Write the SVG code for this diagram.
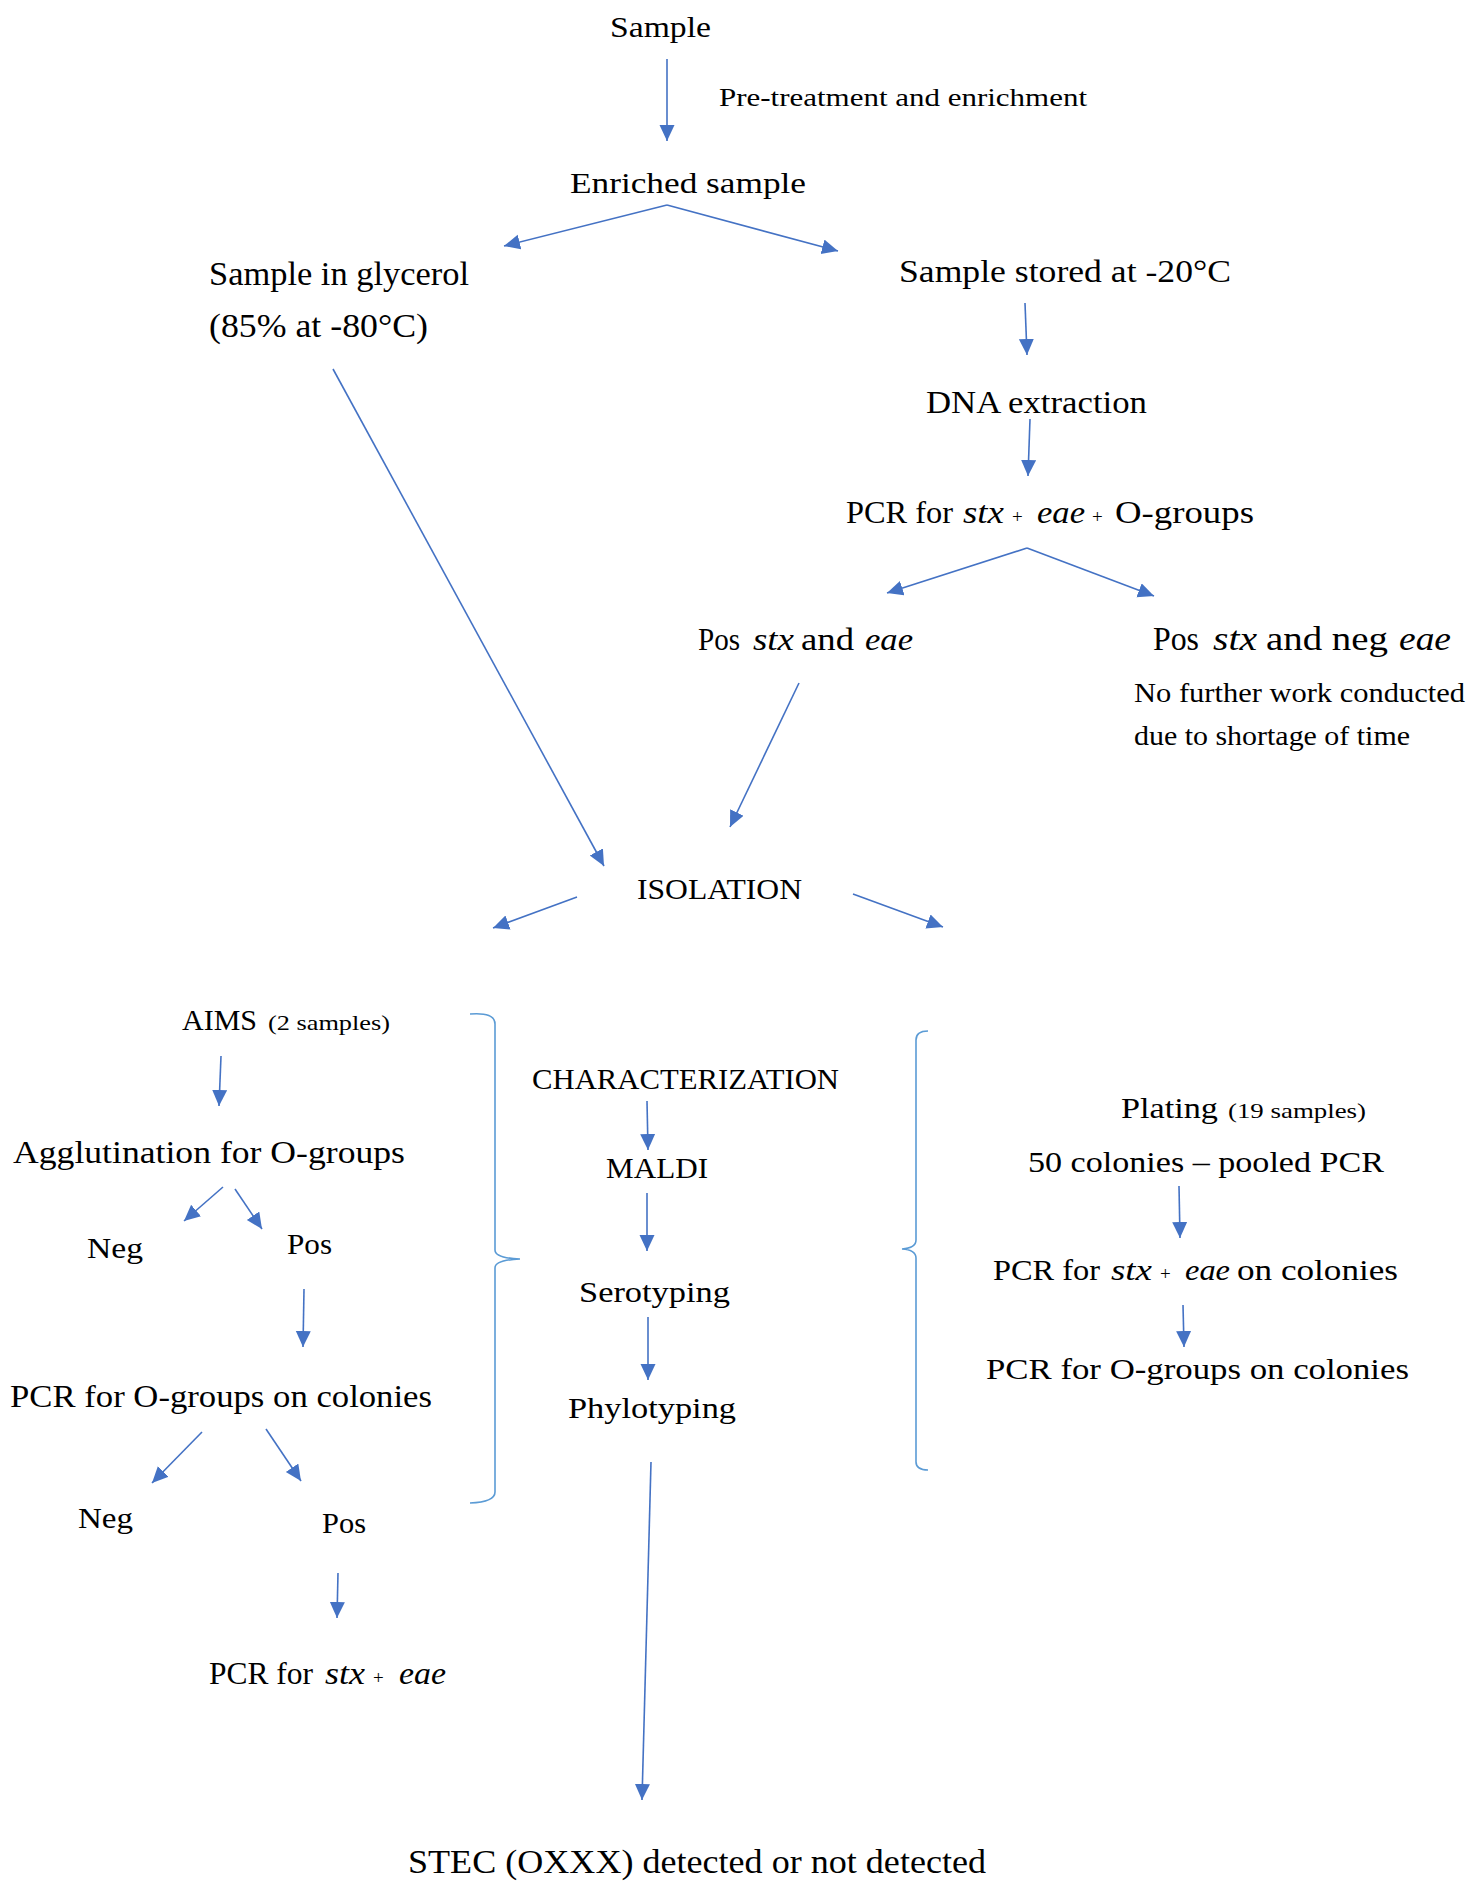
<svg xmlns="http://www.w3.org/2000/svg" width="1478" height="1883" viewBox="0 0 1478 1883">
<style>
text{font-family:"Liberation Serif","Times New Roman",serif;fill:#000;}
.i{font-style:italic;}
.pl{font-size:19px;}
.c{stroke:#4472C4;stroke-width:1.6;fill:none;}
.b{stroke:#5B9BD5;stroke-width:1.6;fill:none;}
</style>
<defs>
<marker id="ah" markerUnits="userSpaceOnUse" markerWidth="18" markerHeight="16" refX="16" refY="7.5" orient="auto">
<path d="M0,0 L16,7.5 L0,15 z" fill="#4472C4"/>
</marker>
</defs>
<rect width="1478" height="1883" fill="#fff"/>
<g id="connectors">
<line class="c" x1="667" y1="59" x2="667" y2="141" marker-end="url(#ah)"/>
<line class="c" x1="667" y1="205" x2="504" y2="246" marker-end="url(#ah)"/>
<line class="c" x1="667" y1="205" x2="838" y2="251" marker-end="url(#ah)"/>
<line class="c" x1="1025" y1="303" x2="1027" y2="355" marker-end="url(#ah)"/>
<line class="c" x1="1030" y1="419" x2="1028" y2="476" marker-end="url(#ah)"/>
<line class="c" x1="1027" y1="548" x2="887" y2="593" marker-end="url(#ah)"/>
<line class="c" x1="1027" y1="548" x2="1154" y2="596" marker-end="url(#ah)"/>
<line class="c" x1="799" y1="683" x2="730" y2="827" marker-end="url(#ah)"/>
<line class="c" x1="333" y1="369" x2="604" y2="866" marker-end="url(#ah)"/>
<line class="c" x1="577" y1="897" x2="493" y2="928" marker-end="url(#ah)"/>
<line class="c" x1="853" y1="894" x2="943" y2="927" marker-end="url(#ah)"/>
<line class="c" x1="221" y1="1056" x2="219" y2="1106" marker-end="url(#ah)"/>
<line class="c" x1="223" y1="1187" x2="184" y2="1221" marker-end="url(#ah)"/>
<line class="c" x1="235" y1="1189" x2="262" y2="1229" marker-end="url(#ah)"/>
<line class="c" x1="304" y1="1289" x2="303" y2="1347" marker-end="url(#ah)"/>
<line class="c" x1="202" y1="1432" x2="152" y2="1483" marker-end="url(#ah)"/>
<line class="c" x1="266" y1="1429" x2="301" y2="1481" marker-end="url(#ah)"/>
<line class="c" x1="338" y1="1573" x2="337" y2="1618" marker-end="url(#ah)"/>
<line class="c" x1="647" y1="1101" x2="648" y2="1150" marker-end="url(#ah)"/>
<line class="c" x1="647" y1="1193" x2="647" y2="1251" marker-end="url(#ah)"/>
<line class="c" x1="648" y1="1317" x2="648" y2="1380" marker-end="url(#ah)"/>
<line class="c" x1="651" y1="1462" x2="642" y2="1800" marker-end="url(#ah)"/>
<line class="c" x1="1179" y1="1186" x2="1180" y2="1238" marker-end="url(#ah)"/>
<line class="c" x1="1183" y1="1305" x2="1184" y2="1347" marker-end="url(#ah)"/>
</g>
<g id="brackets">
<path class="b" d="M470,1014 Q495,1012 495,1024 L495,1250 Q495,1258 520,1259 Q495,1260 495,1268 L495,1492 Q495,1502 470,1503"/>
<path class="b" d="M928,1031 Q916,1031 916,1040 L916,1240 Q916,1248 902,1249 Q916,1250 916,1258 L916,1462 Q916,1470 928,1470"/>
</g>
<g id="n-sample"><text x="610" y="37" font-size="30" textLength="101" lengthAdjust="spacingAndGlyphs">Sample</text></g>
<g id="l-pretreat"><text x="719" y="106" font-size="26" textLength="368" lengthAdjust="spacingAndGlyphs">Pre-treatment and enrichment</text></g>
<g id="n-enriched"><text x="570" y="193" font-size="30" textLength="236" lengthAdjust="spacingAndGlyphs">Enriched sample</text></g>
<g id="n-glycerol">
<text x="209" y="285" font-size="33" textLength="260" lengthAdjust="spacingAndGlyphs">Sample in glycerol</text>
<text x="209" y="337" font-size="33" textLength="219" lengthAdjust="spacingAndGlyphs">(85% at -80°C)</text>
</g>
<g id="n-stored"><text x="899" y="282" font-size="31" textLength="332" lengthAdjust="spacingAndGlyphs">Sample stored at -20°C</text></g>
<g id="n-dna"><text x="926" y="413" font-size="31" textLength="221" lengthAdjust="spacingAndGlyphs">DNA extraction</text></g>
<g id="n-pcr1"><text y="523" font-size="31"><tspan x="846" textLength="107" lengthAdjust="spacingAndGlyphs">PCR for</tspan><tspan class="i" x="963" textLength="41" lengthAdjust="spacingAndGlyphs">stx</tspan><tspan class="pl" x="1012">+</tspan><tspan class="i" x="1037" textLength="48" lengthAdjust="spacingAndGlyphs">eae</tspan><tspan class="pl" x="1092">+</tspan><tspan x="1115" textLength="139" lengthAdjust="spacingAndGlyphs">O-groups</tspan></text></g>
<g id="n-pos1"><text y="650" font-size="32"><tspan x="698" textLength="42" lengthAdjust="spacingAndGlyphs">Pos</tspan><tspan class="i" x="753" textLength="41" lengthAdjust="spacingAndGlyphs">stx</tspan><tspan x="801" textLength="53" lengthAdjust="spacingAndGlyphs">and</tspan><tspan class="i" x="865" textLength="48" lengthAdjust="spacingAndGlyphs">eae</tspan></text></g>
<g id="n-pos2">
<text y="650" font-size="34"><tspan x="1153" textLength="46" lengthAdjust="spacingAndGlyphs">Pos</tspan><tspan class="i" x="1213" textLength="44" lengthAdjust="spacingAndGlyphs">stx</tspan><tspan x="1266" textLength="122" lengthAdjust="spacingAndGlyphs">and neg</tspan><tspan class="i" x="1399" textLength="52" lengthAdjust="spacingAndGlyphs">eae</tspan></text>
<text x="1134" y="702" font-size="28" textLength="331" lengthAdjust="spacingAndGlyphs">No further work conducted</text>
<text x="1134" y="745" font-size="28" textLength="276" lengthAdjust="spacingAndGlyphs">due to shortage of time</text>
</g>
<g id="n-isolation"><text x="637" y="899" font-size="30" textLength="165" lengthAdjust="spacingAndGlyphs">ISOLATION</text></g>
<g id="n-aims"><text y="1030"><tspan x="182" font-size="30" textLength="75" lengthAdjust="spacingAndGlyphs">AIMS</tspan><tspan x="268" font-size="22" textLength="122" lengthAdjust="spacingAndGlyphs">(2 samples)</tspan></text></g>
<g id="n-agglut"><text x="13" y="1163" font-size="31" textLength="392" lengthAdjust="spacingAndGlyphs">Agglutination for O-groups</text></g>
<g id="n-neg1"><text x="87" y="1258" font-size="30" textLength="56" lengthAdjust="spacingAndGlyphs">Neg</text></g>
<g id="n-pos3"><text x="287" y="1254" font-size="30" textLength="45" lengthAdjust="spacingAndGlyphs">Pos</text></g>
<g id="n-pcro1"><text x="10" y="1407" font-size="31" textLength="422" lengthAdjust="spacingAndGlyphs">PCR for O-groups on colonies</text></g>
<g id="n-neg2"><text x="78" y="1528" font-size="30" textLength="55" lengthAdjust="spacingAndGlyphs">Neg</text></g>
<g id="n-pos4"><text x="322" y="1533" font-size="30" textLength="44" lengthAdjust="spacingAndGlyphs">Pos</text></g>
<g id="n-pcr2"><text y="1684" font-size="31"><tspan x="209" textLength="104" lengthAdjust="spacingAndGlyphs">PCR for</tspan><tspan class="i" x="325" textLength="40" lengthAdjust="spacingAndGlyphs">stx</tspan><tspan class="pl" x="373">+</tspan><tspan class="i" x="399" textLength="47" lengthAdjust="spacingAndGlyphs">eae</tspan></text></g>
<g id="n-char"><text x="532" y="1089" font-size="30" textLength="307" lengthAdjust="spacingAndGlyphs">CHARACTERIZATION</text></g>
<g id="n-maldi"><text x="606" y="1178" font-size="30" textLength="102" lengthAdjust="spacingAndGlyphs">MALDI</text></g>
<g id="n-sero"><text x="579" y="1302" font-size="30" textLength="151" lengthAdjust="spacingAndGlyphs">Serotyping</text></g>
<g id="n-phylo"><text x="568" y="1418" font-size="30" textLength="168" lengthAdjust="spacingAndGlyphs">Phylotyping</text></g>
<g id="n-plating">
<text y="1118"><tspan x="1121" font-size="30" textLength="97" lengthAdjust="spacingAndGlyphs">Plating</tspan><tspan x="1228" font-size="22" textLength="138" lengthAdjust="spacingAndGlyphs">(19 samples)</tspan></text>
<text x="1028" y="1172" font-size="30" textLength="356" lengthAdjust="spacingAndGlyphs">50 colonies – pooled PCR</text>
</g>
<g id="n-pcr3"><text y="1280" font-size="30"><tspan x="993" textLength="107" lengthAdjust="spacingAndGlyphs">PCR for</tspan><tspan class="i" x="1111" textLength="41" lengthAdjust="spacingAndGlyphs">stx</tspan><tspan class="pl" x="1160">+</tspan><tspan class="i" x="1185" textLength="45" lengthAdjust="spacingAndGlyphs">eae</tspan><tspan x="1237" textLength="161" lengthAdjust="spacingAndGlyphs">on colonies</tspan></text></g>
<g id="n-pcro2"><text x="986" y="1379" font-size="30" textLength="423" lengthAdjust="spacingAndGlyphs">PCR for O-groups on colonies</text></g>
<g id="n-stec"><text x="408" y="1873" font-size="34" textLength="578" lengthAdjust="spacingAndGlyphs">STEC (OXXX) detected or not detected</text></g>
</svg>
